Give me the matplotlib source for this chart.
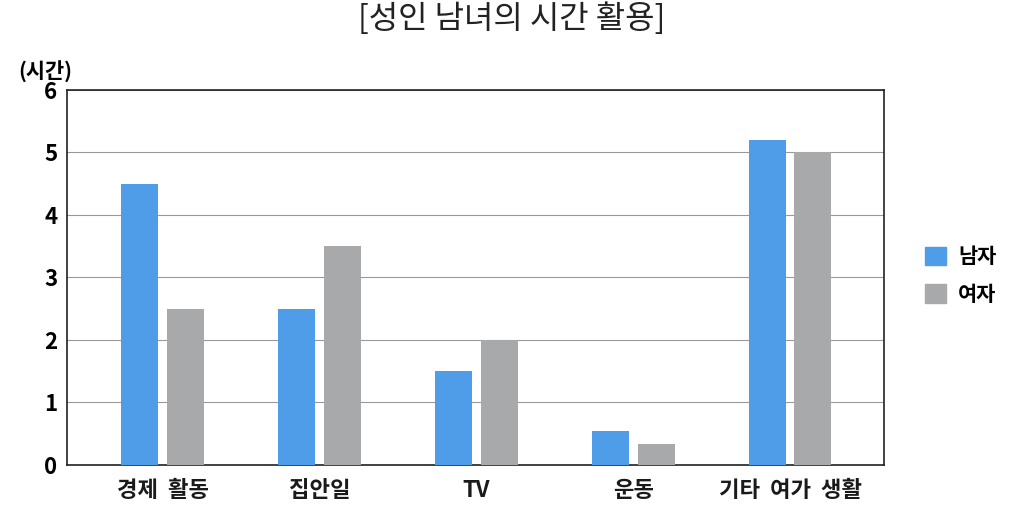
import matplotlib

matplotlib.use("Agg")
import matplotlib.pyplot as plt
import numpy as np
from matplotlib.patches import Patch

plt.rcParams["font.family"] = ["Noto Sans CJK KR", "DejaVu Sans"]

# data
categories = ["경제  활동", "집안일", "TV", "운동", "기타  여가  생활"]
men = [4.5, 2.5, 1.5, 0.55, 5.2]
women = [2.5, 3.5, 2.0, 0.33, 5.0]
series_names = ["남자", "여자"]
yticks = [0, 1, 2, 3, 4, 5, 6]

BLUE = "#4f9ce8"
GRAY = "#a7a9aa"

fig = plt.figure(figsize=(10.24, 5.2), dpi=100)
ax = fig.add_axes([0.0654, 0.106, 0.798, 0.721])

x = np.arange(len(categories))
w = 0.235
off = 0.146
ax.bar(x - off, men, width=w, color=BLUE, zorder=3)
ax.bar(x + off, women, width=w, color=GRAY, zorder=3)

ax.set_xlim(-0.61, 4.6)
ax.set_ylim(0, 6)
ax.set_yticks(yticks)
ax.yaxis.grid(True, color="#999999", lw=0.8, zorder=0)
ax.set_xticks(x)
ax.set_xticklabels(categories, fontsize=16, fontweight="bold", color="#1a1a1a")
ax.tick_params(axis="x", length=0, pad=10)
ax.tick_params(axis="y", length=0, pad=7, labelsize=16)
for lab in ax.get_yticklabels():
    lab.set_fontweight("bold")
for s in ax.spines.values():
    s.set_color("#222222")
    s.set_linewidth(1.2)

fig.text(0.5, 0.995, "[성인 남녀의 시간 활용]", ha="center", va="top",
         fontsize=23, fontweight="light", color="#222222")
fig.text(0.018, 0.84, "(시간)", ha="left", va="bottom", fontsize=15,
         fontweight="bold")

handles = [Patch(color=BLUE), Patch(color=GRAY)]
fig.legend(handles, series_names, loc="center left",
           bbox_to_anchor=(0.885, 0.47), frameon=False,
           handlelength=1.0, handleheight=1.0, handletextpad=0.6,
           labelspacing=0.8, prop={"weight": "bold", "size": 15})

fig.savefig("out.png", dpi=100)
